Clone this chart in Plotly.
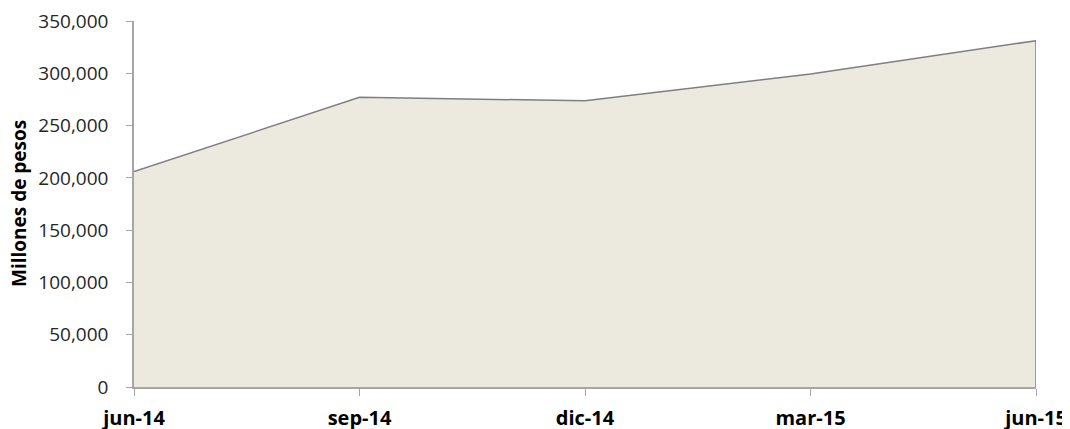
import plotly.graph_objects as go

categories = ["jun-14", "sep-14", "dic-14", "mar-15", "jun-15"]
values = [206000, 277000, 273700, 299300, 331200]
y_ticks = [0, 50000, 100000, 150000, 200000, 250000, 300000, 350000]
y_tick_labels = [f"{v:,}" for v in y_ticks]
y_title = "Millones de pesos"

fig = go.Figure()
fig.add_trace(go.Scatter(
    x=categories, y=values, mode="lines", fill="tozeroy",
    fillcolor="#ECE9DF", line=dict(color="#7F7F7F", width=1.5),
    hoverinfo="skip", showlegend=False,
))
fig.add_trace(go.Scatter(
    x=[categories[-1], categories[-1]], y=[0, values[-1]], mode="lines",
    line=dict(color="#7F7F7F", width=1.5), hoverinfo="skip", showlegend=False,
))

fig.update_layout(
    width=1062, height=421,
    margin=dict(l=126, r=34, t=13, b=42),
    plot_bgcolor="white", paper_bgcolor="white",
    font=dict(family="Open Sans, Liberation Sans, sans-serif", color="#262626"),
)
fig.update_xaxes(
    type="category", range=[0, len(categories) - 1], automargin=False,
    showgrid=False, showline=True, linecolor="#A6A6A6", linewidth=1.5,
    ticks="outside", ticklen=7, tickcolor="#A6A6A6",
    tickfont=dict(size=20, family="Open Sans, sans-serif", color="#000000", weight="bold"),
    ticklabelstandoff=5, ticklabeloverflow="allow",
)
fig.update_yaxes(
    range=[0, 350000], tickvals=y_ticks, ticktext=y_tick_labels, automargin=False,
    showgrid=False, showline=True, linecolor="#A6A6A6", linewidth=1.5,
    ticks="outside", ticklen=6, tickcolor="#A6A6A6",
    tickfont=dict(size=19, color="#262626"),
    ticklabelstandoff=14, ticklabeloverflow="allow",
    zeroline=False,
)
fig.add_annotation(
    text=f"<b>{y_title}</b>", xref="paper", yref="paper", x=0, y=0.5,
    xanchor="center", yanchor="middle", xshift=-115, textangle=-90,
    showarrow=False, font=dict(size=19, color="#000000"),
)
fig.write_html("out.html")
